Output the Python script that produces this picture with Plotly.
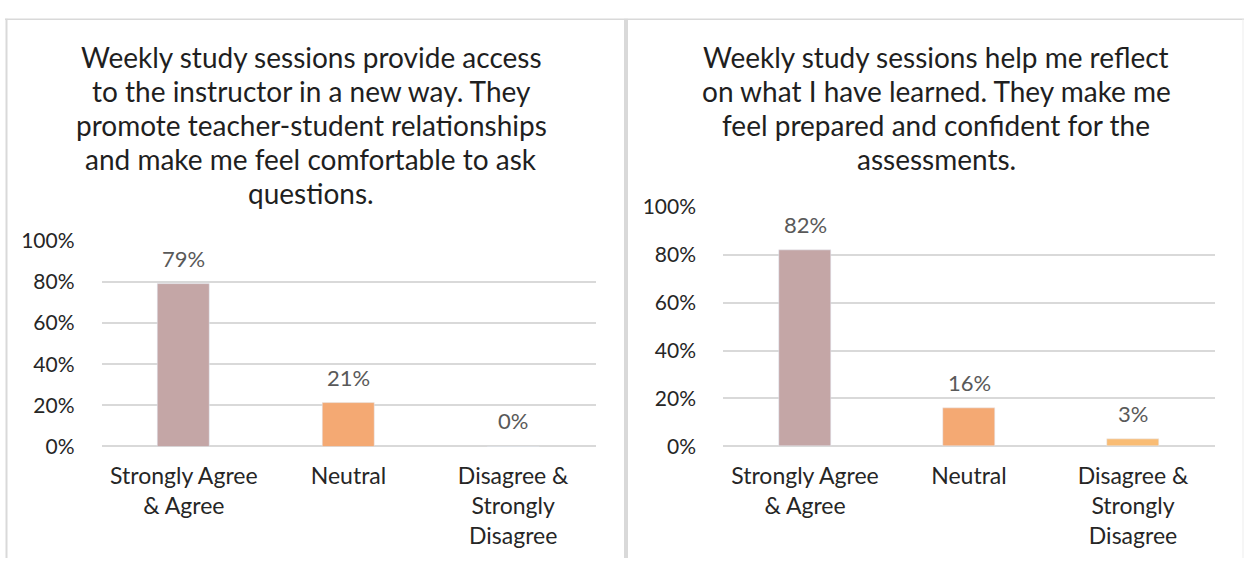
import plotly.graph_objects as go

# Survey response shares for the two statements
categories = ["Strongly Agree<br>& Agree", "Neutral", "Disagree &<br>Strongly<br>Disagree"]
access_values = [0.79, 0.21, 0.00]
reflect_values = [0.82, 0.16, 0.03]
value_labels_access = ["79%", "21%", "0%"]
value_labels_reflect = ["82%", "16%", "3%"]
bar_colors = ["#C4A6A6", "#F4A973", "#F9BC74"]

title_access = [
    "Weekly study sessions provide access",
    "to the instructor in a new way. They",
    "promote teacher-student relationships",
    "and make me feel comfortable to ask",
    "questions.",
]
title_reflect = [
    "Weekly study sessions help me reflect",
    "on what I have learned. They make me",
    "feel prepared and confident for the",
    "assessments.",
]
y_ticks = [0, 0.2, 0.4, 0.6, 0.8, 1.0]
y_tick_text = ["0%", "20%", "40%", "60%", "80%", "100%"]

W, H = 1244, 569
FONT = "Lato"
GRID = "#D9D9D9"


def px_x(p):
    return p / W


def px_y(p):
    return 1 - p / H


fig = go.Figure()
fig.add_trace(go.Bar(x=categories, y=access_values, marker_color=bar_colors,
                     width=0.316, xaxis="x", yaxis="y", showlegend=False,
                     hoverinfo="skip"))
fig.add_trace(go.Bar(x=categories, y=reflect_values, marker_color=bar_colors,
                     width=0.316, xaxis="x2", yaxis="y2", showlegend=False,
                     hoverinfo="skip"))

axis_common = dict(showline=False, ticks="", fixedrange=True)
xaxis_style = dict(axis_common, tickfont=dict(family=FONT, size=23, color="#262626"),
                   ticklabelstandoff=14, showgrid=False, range=[-0.5, 2.5])
yaxis_style = dict(axis_common, tickfont=dict(family=FONT, size=21, color="#262626"),
                   tickvals=y_ticks, ticktext=y_tick_text, range=[0, 1.0],
                   showgrid=True, gridcolor=GRID, gridwidth=2,
                   zeroline=True, zerolinecolor=GRID, zerolinewidth=2,
                   ticklabelstandoff=26)

fig.update_layout(
    width=W, height=H,
    margin=dict(l=0, r=0, t=0, b=0),
    paper_bgcolor="white", plot_bgcolor="white",
    bargap=0,
    xaxis=dict(xaxis_style, domain=[px_x(101.5), px_x(595.5)], anchor="y"),
    yaxis=dict(yaxis_style, domain=[px_y(452.3), px_y(237.3)], anchor="x"),
    xaxis2=dict(xaxis_style, domain=[px_x(723), px_x(1215)], anchor="y2"),
    yaxis2=dict(yaxis_style, domain=[px_y(452), px_y(202)], anchor="x2"),
)

annotations = []
# value labels above the bars
label_font = dict(family=FONT, size=22, color="#595959")
for cat, v, t in zip(categories, access_values, value_labels_access):
    annotations.append(dict(x=cat, y=v, xref="x", yref="y", text=t, showarrow=False,
                            yanchor="bottom", yshift=10, font=label_font))
for cat, v, t in zip(categories, reflect_values, value_labels_reflect):
    annotations.append(dict(x=cat, y=v, xref="x2", yref="y2", text=t, showarrow=False,
                            yanchor="bottom", yshift=10, font=label_font))

# multi-line panel titles, one annotation per line for exact spacing
title_font = dict(family=FONT, size=28, color="#1F1F1F")
for i, line in enumerate(title_access):
    annotations.append(dict(x=px_x(311), y=px_y(45 + 35.5 * i), xref="paper", yref="paper",
                            text=line, showarrow=False, xanchor="center", yanchor="middle",
                            font=title_font))
for i, line in enumerate(title_reflect):
    annotations.append(dict(x=px_x(936), y=px_y(45 + 35.5 * i), xref="paper", yref="paper",
                            text=line, showarrow=False, xanchor="center", yanchor="middle",
                            font=title_font))
fig.update_layout(annotations=annotations)

# panel frames
frame = dict(type="line", xref="paper", yref="paper")
fig.update_layout(shapes=[
    dict(frame, x0=px_x(5), x1=px_x(1244), y0=px_y(5.5), y1=px_y(5.5), line=dict(color=GRID, width=1.5)),
    dict(frame, x0=px_x(6.5), x1=px_x(6.5), y0=px_y(5), y1=0, line=dict(color=GRID, width=2)),
    dict(frame, x0=px_x(626), x1=px_x(626), y0=px_y(5), y1=0, line=dict(color=GRID, width=4)),
    dict(frame, x0=px_x(1243), x1=px_x(1243), y0=px_y(5), y1=0, line=dict(color="#EDEDED", width=1)),
])

fig.write_html("out.html")
